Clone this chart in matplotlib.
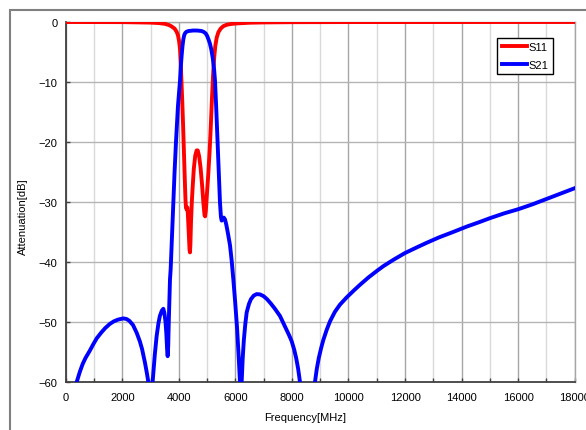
import matplotlib
matplotlib.use('Agg')
import matplotlib.pyplot as plt
from matplotlib.patches import Rectangle
from matplotlib.ticker import MultipleLocator

# S11 (reflection)
s11_freq = [0, 2000, 3000, 3300, 3500, 3650, 3750, 3850, 3920, 3970, 4010,
            4042, 4065, 4090, 4120, 4150, 4180, 4210, 4235, 4254, 4280, 4300,
            4320, 4350, 4380, 4395, 4410, 4430, 4460, 4490, 4530, 4580, 4630,
            4670, 4720, 4770, 4820, 4870, 4910, 4930, 4955, 4990, 5040, 5090,
            5130, 5170, 5210, 5250, 5290, 5340, 5400, 5480, 5573, 5700, 5850,
            6000, 6500, 7000, 8000, 10000, 18000]
s11_db = [0, -0.02, -0.1, -0.18, -0.3, -0.5, -0.75, -1.1, -1.6, -2.2, -3.2,
          -4.5, -6.5, -9.5, -13, -17, -21.5, -26, -29.5, -31.0, -31.2, -30.9,
          -32, -35, -38, -38.4, -37, -33.5, -30, -27.5, -24.5, -22.3, -21.4,
          -21.4, -22.4, -24.3, -27, -30.2, -32.2, -32.4, -31.5, -29, -25.5, -21.5,
          -17.5, -13, -9, -6, -4, -2.6, -1.7, -1.1, -0.7, -0.45, -0.33,
          -0.25, -0.12, -0.07, -0.03, -0.01, 0]

# S21 (transmission)
s21_freq = [300, 389, 500, 600, 700, 850, 976, 1100, 1250, 1400, 1566, 1700,
            1850, 2037, 2150, 2250, 2380, 2510, 2620, 2700, 2804, 2870, 2922,
            2960, 3040, 3075, 3120, 3150, 3217, 3280, 3330, 3400, 3452, 3490,
            3530, 3560, 3585, 3606, 3625, 3645, 3670, 3688, 3712, 3760, 3806,
            3850, 3900, 3970, 4042, 4070, 4100, 4130, 4160, 4190, 4230, 4280,
            4350, 4500, 4650, 4800, 4880, 4950, 5000, 5050, 5100, 5150, 5200,
            5250, 5280, 5320, 5370, 5410, 5456, 5490, 5516, 5545, 5590, 5633,
            5680, 5740, 5810, 5870, 5930, 5990, 6060, 6120, 6163, 6190, 6200,
            6223, 6260, 6300, 6350, 6400, 6480, 6550, 6650, 6754, 6870, 7000,
            7120, 7250, 7400, 7578, 7700, 7800, 7900, 7991, 8080, 8150, 8220,
            8285, 8320, 8780, 8815, 8880, 8950, 9030, 9110, 9230, 9346, 9520,
            9700, 9936, 10200, 10407, 10700, 11000, 11231, 11600, 12000, 12400,
            12765, 13200, 13700, 14180, 14600, 15000, 15500, 16004, 16500,
            17000, 17500, 18000]
s21_db = [-62, -60, -58.3, -57, -56, -54.8, -53.7, -52.7, -51.8, -51, -50.3,
          -49.9, -49.6, -49.4, -49.5, -49.8, -50.5, -51.8, -53.2, -54.5, -56.8,
          -58.5, -60, -62, -62, -60, -57.5, -55.5, -52.3, -50.2, -49, -48.1,
          -47.8, -48.5, -50, -52, -54.5, -55.7, -54, -50, -46, -42.9, -41.2,
          -35.5, -30.1, -25, -20, -14, -9.8, -7.5, -5.6, -4.0, -2.9, -2.2,
          -1.8, -1.6, -1.5, -1.42, -1.42, -1.5, -1.65, -1.9, -2.3, -2.9, -3.6,
          -4.6, -6.0, -8.0, -9.8, -14, -20, -25, -30.1, -32.5, -33.1, -32.7,
          -32.6, -32.9, -33.8, -35.3, -37.2, -39.8, -43, -46.5, -51, -56,
          -60, -64, -64, -60, -56, -53, -50.4, -48.4, -47, -46.2, -45.6,
          -45.35, -45.4, -45.7, -46.2, -46.9, -47.8, -49, -50.2, -51.2, -52.2,
          -53.2, -54.6, -56, -57.8, -60, -62, -62, -60, -57.8, -56, -54.4,
          -53.0, -51.3, -49.9, -48.3, -47.1, -45.9, -44.7, -43.8, -42.6, -41.5,
          -40.7, -39.6, -38.5, -37.6, -36.8, -35.9, -35, -34.1, -33.4, -32.7,
          -31.9, -31.2, -30.4, -29.5, -28.6, -27.7]

plt.rcParams['font.family'] = ['Liberation Sans', 'DejaVu Sans']
plt.rcParams['font.size'] = 8

fig = plt.figure(figsize=(5.86, 4.31), dpi=100)
fig.patches.append(Rectangle((10 / 586, -0.1), 1.2, 1.1 - 11 / 431,
                             transform=fig.transFigure, fill=False,
                             edgecolor='#808080', lw=1.5, zorder=0))

ax = fig.add_axes([65.7 / 586, 1 - 383 / 431, 509 / 586, 360 / 431])

ax.plot(s11_freq, s11_db, color='#ff0000', lw=2.8, label='S11',
        solid_joinstyle='round', zorder=3)
ax.plot(s21_freq, s21_db, color='#0000ff', lw=2.8, label='S21',
        solid_joinstyle='round', zorder=4)

ax.set_xlim(0, 18000)
ax.set_ylim(-60, 0)
ax.xaxis.set_major_locator(MultipleLocator(2000))
ax.xaxis.set_minor_locator(MultipleLocator(1000))
ax.yaxis.set_major_locator(MultipleLocator(10))

ax.grid(which='major', axis='x', color='#a6a6a6', lw=1.0)
ax.grid(which='minor', axis='x', color='#d9d9d9', lw=1.0)
ax.grid(which='major', axis='y', color='#b4b4b4', lw=1.0)
ax.set_axisbelow(True)

ax.tick_params(which='both', direction='in', length=3, width=1, color='#404040')
ax.tick_params(axis='x', pad=7)
ax.tick_params(axis='y', pad=6)

for side in ['left', 'bottom']:
    ax.spines[side].set_color('#404040')
    ax.spines[side].set_linewidth(1.3)
for side in ['right', 'top']:
    ax.spines[side].set_color('#a6a6a6')
    ax.spines[side].set_linewidth(1.0)

fig.text(305 / 586, 1 - 418 / 431, 'Frequency[MHz]', ha='center', va='center')
fig.text(23 / 586, 1 - 217 / 431, 'Attenuation[dB]', ha='center', va='center',
         rotation=90)

leg = ax.legend(loc='upper right', bbox_to_anchor=(0.957, 0.956),
                fancybox=False, framealpha=1, edgecolor='black',
                handlelength=2.3, handletextpad=0.1, borderpad=0.4,
                labelspacing=0.65, borderaxespad=0, fontsize=8)
leg.get_frame().set_linewidth(1.0)

fig.savefig('out.png', dpi=100)
